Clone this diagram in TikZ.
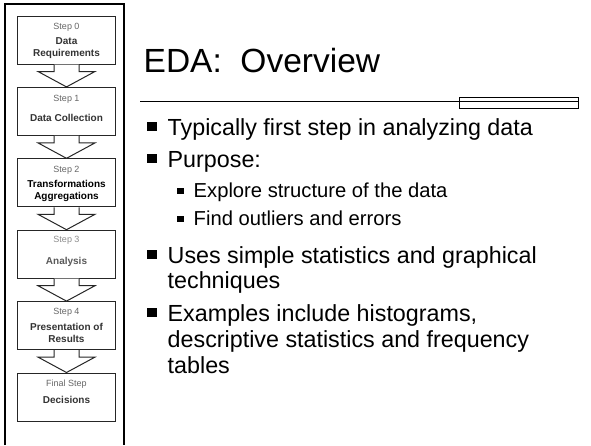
\documentclass[tikz,border=0pt]{standalone}
\usepackage{fontspec}
\setmainfont{Liberation Sans}
\usetikzlibrary{calc}
\begin{document}
\begin{tikzpicture}[x=1pt,y=-1pt,
  stepbox/.style={draw=black!85, line width=1pt, minimum width=98pt, minimum height=48pt, inner sep=0pt, fill=white},
  flowarrow/.style={draw=black!85, line width=1pt, fill=white, line join=miter},
  steplbl/.style={font=\fontsize{9}{10}\selectfont, text=black!60, inner sep=0pt},
  stepname/.style={font=\fontsize{10}{12}\selectfont\bfseries, text=black!80, inner sep=0pt},
  frameline/.style={line width=2.6pt, draw=black},
  body/.style={font=\fontsize{23.3}{26}\selectfont, anchor=base west, inner sep=0pt},
  subbody/.style={font=\fontsize{20.2}{23}\selectfont, anchor=base west, inner sep=0pt},
  bul/.style={fill=black, draw=none},
]
\useasboundingbox (0,0) rectangle (591,445);
\fill[white] (0,0) rectangle (591,445);

% left frame
\draw[frameline] (5,445) -- (5,4) -- (124,4) -- (124,445);

% step boxes
\node[stepbox] (b0) at (66.5,40) {};
\node[stepbox] (b1) at (66.5,111.4) {};
\node[stepbox] (b2) at (66.5,182.8) {};
\node[stepbox] (b3) at (66.5,254.2) {};
\node[stepbox] (b4) at (66.5,325.6) {};
\node[stepbox] (b5) at (66.5,397) {};

% arrows between boxes
\foreach \a/\b in {b0/b1,b1/b2,b2/b3,b3/b4,b4/b5}{
  \draw[flowarrow] ($(\a.south)+(-12.5,0)$) -- ++(0,7) -- ++(-16,0) -- (\b.north)
    -- ($(\a.south)+(28.5,7)$) -- ++(-16,0) -- ++(0,-7);
}

% box texts
\node[steplbl] (s0) at (66.5,27) {Step 0};
\node[stepname] (n0a) at (66.5,41) {Data};
\node[stepname] (n0b) at (66.5,53.5) {Requirements};

\node[steplbl] (s1) at (66.5,99) {Step 1};
\node[stepname] (n1) at (66.5,117.5) {Data Collection};

\node[steplbl] (s2) at (66.5,170.5) {Step 2};
\node[stepname, text=black] (n2a) at (66.5,183.5) {Transformations};
\node[stepname, text=black] (n2b) at (66.5,196.5) {Aggregations};

\node[steplbl, text=black!45] (s3) at (66.5,240.5) {Step 3};
\node[stepname, text=black!65] (n3) at (66.5,261.5) {Analysis};

\node[steplbl] (s4) at (66.5,312.5) {Step 4};
\node[stepname] (n4a) at (66.5,326.5) {Presentation of};
\node[stepname] (n4b) at (66.5,339) {Results};

\node[steplbl] (s5) at (66.5,384.5) {Final Step};
\node[stepname] (n5) at (66.5,399.5) {Decisions};

% title
\node[font=\fontsize{33.5}{40}\selectfont, anchor=base west, inner sep=0pt] (title) at (143.5,72.5) {EDA:\ \ Overview};
\coordinate (rulel) at (140,101.5);
\coordinate (ruler) at (578,101.5);
\draw[line width=1.3pt] (rulel) -- (ruler);
\draw[line width=0.9pt] (459,97) rectangle (578,108);

% bullets
\fill[bul] (147,121.5) rectangle (156.5,131);
\node[body] (t1) at (167.5,135) {Typically first step in analyzing data};
\fill[bul] (147,153.5) rectangle (156.5,163);
\node[body] (t2) at (167.5,167) {Purpose:};
\fill[bul] (177.3,187.5) rectangle (184,194.2);
\node[subbody] (t3) at (193.5,197) {Explore structure of the data};
\fill[bul] (177.3,215.5) rectangle (184,222.2);
\node[subbody] (t4) at (193.5,225) {Find outliers and errors};
\fill[bul] (147,249.5) rectangle (156.5,259);
\node[body] (t5) at (167.5,263) {Uses simple statistics and graphical};
\node[body] (t5b) at (167.5,288) {techniques};
\fill[bul] (147,307.5) rectangle (156.5,317);
\node[body] (t6) at (167.5,321) {Examples include histograms,};
\node[body] (t6b) at (167.5,347) {descriptive statistics and frequency};
\node[body] (t6c) at (167.5,373) {tables};
\end{tikzpicture}
\end{document}
